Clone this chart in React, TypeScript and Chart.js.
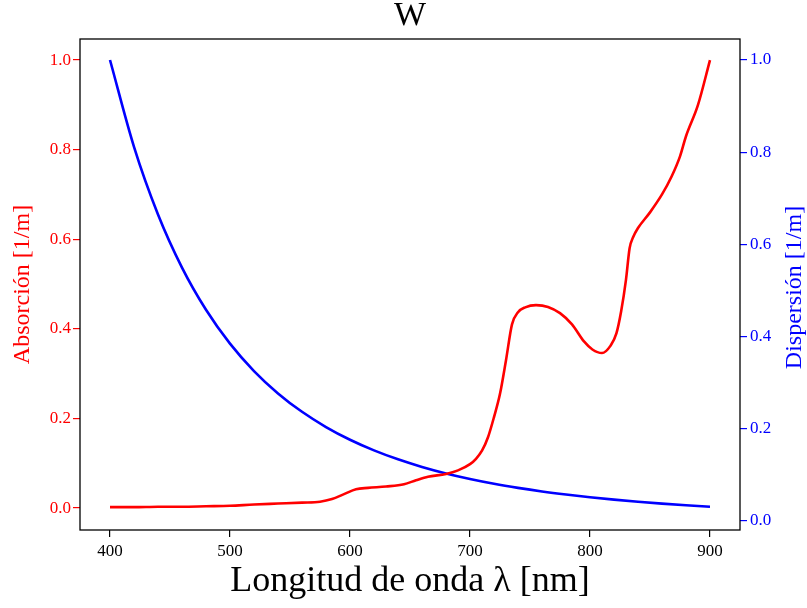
import React, { useEffect, useRef } from "react";
import { Chart, registerables } from "chart.js";

Chart.register(...registerables);

const titleText = "W";
const xLabel = "Longitud de onda λ [nm]";
const leftLabel = "Absorción [1/m]";
const rightLabel = "Dispersión [1/m]";

const xTicks = [400, 500, 600, 700, 800, 900];
const leftTicks = [0.0, 0.2, 0.4, 0.6, 0.8, 1.0];
const rightTicks = [0.0, 0.2, 0.4, 0.6, 0.8, 1.0];

const absWavelengths = [400, 420, 440, 460, 480, 500, 520, 540, 560, 575, 585, 595, 605, 615, 630, 645, 655, 665, 680, 690, 700, 705, 710, 715, 720, 725, 730, 735, 740, 746, 755, 765, 775, 785, 795, 802, 810, 817, 822, 826, 830, 833, 836, 840, 850, 860, 868, 875, 880, 890, 900];
const absValues = [0.002, 0.002, 0.003, 0.003, 0.004, 0.005, 0.008, 0.010, 0.012, 0.014, 0.020, 0.031, 0.042, 0.045, 0.048, 0.053, 0.062, 0.070, 0.076, 0.084, 0.098, 0.110, 0.128, 0.158, 0.203, 0.255, 0.330, 0.410, 0.437, 0.448, 0.453, 0.449, 0.435, 0.410, 0.372, 0.354, 0.346, 0.362, 0.390, 0.440, 0.510, 0.580, 0.605, 0.625, 0.660, 0.700, 0.740, 0.785, 0.830, 0.900, 1.000];

const dispWavelengths = [400, 420, 440, 460, 480, 500, 520, 540, 560, 580, 600, 620, 640, 660, 680, 700, 720, 740, 760, 780, 800, 820, 840, 860, 880, 900];
const dispValues = [1.0, 0.8116, 0.665, 0.5498, 0.4583, 0.3848, 0.3253, 0.2768, 0.2369, 0.2039, 0.1763, 0.1532, 0.1338, 0.1173, 0.1032, 0.0912, 0.0808, 0.0719, 0.0641, 0.0574, 0.0515, 0.0463, 0.0418, 0.0378, 0.0342, 0.0311];

const RED = "#ff0000";
const BLUE = "#0000ff";
const FONT = '"Liberation Serif", "DejaVu Serif", serif';

const framePlugin = {
  id: "frame",
  afterDraw(chart: any) {
    const { ctx, chartArea } = chart;
    const { left, top, right, bottom } = chartArea;
    ctx.save();
    ctx.strokeStyle = "#000";
    ctx.lineWidth = 1.3;
    ctx.strokeRect(left, top, right - left, bottom - top);
    ctx.fillStyle = "#000";
    ctx.font = `34px ${FONT}`;
    ctx.textAlign = "center";
    ctx.textBaseline = "middle";
    ctx.fillText(titleText, (left + right) / 2, 16);
    ctx.translate(795, (top + bottom) / 2 + 3);
    ctx.rotate(-Math.PI / 2);
    ctx.fillStyle = BLUE;
    ctx.font = `24px ${FONT}`;
    ctx.fillText(rightLabel, 0, 0);
    ctx.restore();
  },
};

export default function App() {
  const ref = useRef<HTMLCanvasElement>(null);
  useEffect(() => {
    if (!ref.current) return;
    const chart = new Chart(ref.current, {
      type: "line",
      data: {
        datasets: [
          {
            label: leftLabel,
            data: absWavelengths.map((x, i) => ({ x, y: absValues[i] })),
            borderColor: RED,
            borderWidth: 2.6,
            pointRadius: 0,
            cubicInterpolationMode: "monotone",
            yAxisID: "y",
          },
          {
            label: rightLabel,
            data: dispWavelengths.map((x, i) => ({ x, y: dispValues[i] })),
            borderColor: BLUE,
            borderWidth: 2.6,
            pointRadius: 0,
            cubicInterpolationMode: "monotone",
            yAxisID: "y2",
          },
        ],
      },
      options: {
        responsive: false,
        animation: false,
        devicePixelRatio: 1,
        layout: { padding: { top: 39, left: 0, right: 0, bottom: 0 } },
        plugins: { legend: { display: false }, title: { display: false }, tooltip: { enabled: false } },
        scales: {
          x: {
            type: "linear",
            min: 375,
            max: 925,
            afterBuildTicks: (s: any) => {
              s.ticks = xTicks.map((v) => ({ value: v }));
            },
            afterFit: (s: any) => {
              s.height = 78;
            },
            grid: { drawOnChartArea: false, drawTicks: true, tickLength: 7, color: "#000", lineWidth: 1.2 },
            border: { display: false },
            ticks: { color: "#000", font: { family: FONT, size: 17 }, padding: 4, callback: (v: any) => String(v), maxRotation: 0 },
            title: { display: true, text: xLabel, color: "#000", font: { family: FONT, size: 36 }, padding: { top: 0, bottom: 5 } },
          },
          y: {
            type: "linear",
            position: "left",
            min: -0.049,
            max: 1.047,
            afterBuildTicks: (s: any) => {
              s.ticks = leftTicks.map((v) => ({ value: v }));
            },
            afterFit: (s: any) => {
              s.width = 80;
            },
            grid: { drawOnChartArea: false, drawTicks: true, tickLength: 7, color: RED, lineWidth: 1.2 },
            border: { display: false },
            ticks: { color: RED, font: { family: FONT, size: 17 }, padding: 2, callback: (v: any) => Number(v).toFixed(1) },
            title: { display: true, text: leftLabel, color: RED, font: { family: FONT, size: 24 }, padding: { top: 8, bottom: 0 } },
          },
          y2: {
            type: "linear",
            position: "right",
            min: -0.0195,
            max: 1.0456,
            afterBuildTicks: (s: any) => {
              s.ticks = rightTicks.map((v) => ({ value: v }));
            },
            afterFit: (s: any) => {
              s.width = 67;
            },
            grid: { drawOnChartArea: false, drawTicks: true, tickLength: 7, color: BLUE, lineWidth: 1.2 },
            border: { display: false },
            ticks: { color: BLUE, font: { family: FONT, size: 17 }, padding: 3, callback: (v: any) => Number(v).toFixed(1) },
          },
        },
      },
      plugins: [framePlugin],
    } as any);
    return () => chart.destroy();
  }, []);
  return (
    <div style={{ position: "fixed", left: 0, top: 0, width: 807, height: 608, background: "#fff" }}>
      <canvas ref={ref} width={807} height={608} />
    </div>
  );
}
